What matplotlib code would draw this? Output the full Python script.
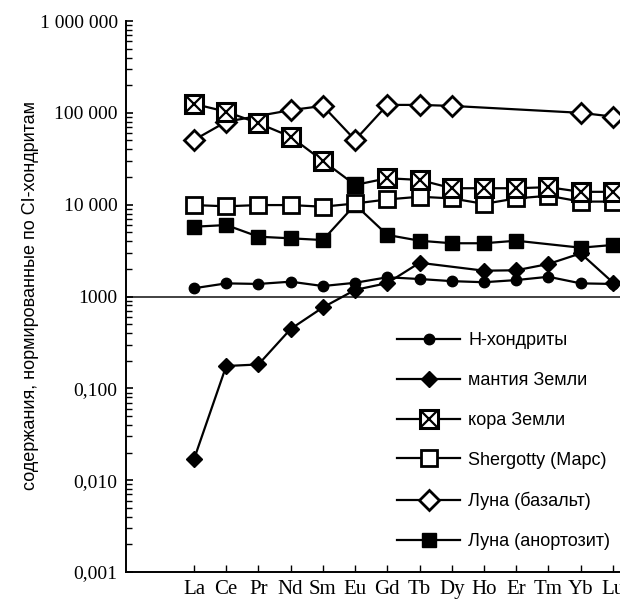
import numpy as np
import matplotlib
matplotlib.use('Agg')
import matplotlib.pyplot as plt
from matplotlib.legend_handler import HandlerTuple
from matplotlib.ticker import LogLocator, FixedLocator, NullFormatter

# Редкоземельные элементы
elements = ['La', 'Ce', 'Pr', 'Nd', 'Sm', 'Eu', 'Gd', 'Tb', 'Dy', 'Ho', 'Er', 'Tm', 'Yb', 'Lu']

# Значения в единицах оси (подписи оси в оригинале: 0,001 ... 0,100, 1000 ... 1 000 000)
nan = np.nan
h_chondrites = [1.23, 1.39, 1.37, 1.45, 1.30, 1.41, 1.62, 1.55, 1.47, 1.43, 1.51, 1.64, 1.39, 1.37]
earth_mantle = [0.0169, 0.175, 0.182, 0.443, 0.76, 1.18, 1.40, 2.33, nan, 1.91, 1.93, 2.26, 2.95, 1.42]
earth_crust = [125, 103, 77, 55, 30, 16.4, 19.4, 18.6, 15.1, 15.1, 15.1, 15.5, 13.8, 13.8]
shergotty = [9.9, 9.6, 9.9, 9.9, 9.5, 10.3, 11.4, 12.2, 11.7, 10.2, 11.7, 12.5, 10.8, 10.8]
moon_basalt = [50.6, 80, nan, 107, 119, 50.6, 122, 122, 119, nan, nan, nan, 100, 91]
moon_anorthosite = [5.75, 6.0, 4.48, 4.3, 4.12, 10.0, 4.68, 4.05, 3.8, 3.8, 4.05, nan, 3.4, 3.64]

ytick_values = [1e-3, 1e-2, 1e-1, 1e0, 1e1, 1e2, 1e3]
ytick_labels = ['0,001', '0,010', '0,100', '1000', '10 000', '100 000', '1 000 000']

labels = ['Н-хондриты', 'мантия Земли', 'кора Земли',
          'Shergotty (Марс)', 'Луна (базальт)', 'Луна (анортозит)']

SERIF = 'Liberation Serif'
SANS = 'Liberation Sans'
LW = 1.6


def plot_series(ax, values, skip=None, **kw):
    """Рисует ряд, пропуская отсутствующие точки (линия не прерывается)"""
    v = np.array(values, dtype=float)
    x = np.arange(len(v))
    m = ~np.isnan(v)
    if skip is not None:
        kw['markevery'] = [i for i, xi in enumerate(x[m]) if xi not in skip]
    return ax.plot(x[m], v[m], color='black', lw=LW, **kw)[0]


fig = plt.figure(figsize=(6.2, 5.99), dpi=100)
W, H = 620, 599
ax = fig.add_axes([126 / W, (H - 572) / H, (W - 126) / W, (572 - 21) / H])

ax.set_yscale('log')
ax.set_ylim(1e-3, 1e3)
ax.set_xlim(-2.11, 13.22)

ax.axhline(1.0, color='#333333', lw=1.3, zorder=1)

h_mantle = plot_series(ax, earth_mantle, marker='D', ms=8, mfc='black', mec='black', zorder=2)
h_anort = plot_series(ax, moon_anorthosite, marker='s', ms=10.5, mfc='black', mec='black', zorder=3)
h_sherg = plot_series(ax, shergotty, marker='s', ms=11.5, mfc='white', mec='black', mew=2, zorder=4)
h_basalt = plot_series(ax, moon_basalt, marker='D', ms=10.5, mfc='white', mec='black', mew=2, zorder=5)
h_crust = plot_series(ax, earth_crust, skip=[5], marker='s', ms=12.5, mfc='white', mec='black', mew=2.2, zorder=6)
h_crust_x = ax.plot(np.arange(len(earth_crust)), earth_crust, ls='none', marker='x', ms=12.5,
                    mec='black', mew=1.6, markevery=[i for i in range(14) if i != 5], zorder=6.5)[0]
# Eu в коре на оригинале залит чёрным
ax.plot([5], [earth_crust[5]], ls='none', marker='s', ms=11, mfc='black', mec='black', zorder=6.5)
h_chond = plot_series(ax, h_chondrites, marker='o', ms=7.5, mfc='black', mec='black', zorder=7)

# оси
for side in ['top', 'right']:
    ax.spines[side].set_visible(False)
for side in ['left', 'bottom']:
    ax.spines[side].set_linewidth(1.4)

ax.yaxis.set_major_locator(FixedLocator(ytick_values))
ax.set_yticklabels(ytick_labels, fontfamily=SERIF, fontsize=14)
ax.yaxis.set_minor_locator(LogLocator(base=10, subs=np.arange(2, 10), numticks=20))
ax.yaxis.set_minor_formatter(NullFormatter())
ax.tick_params(axis='y', which='major', direction='in', length=5, width=1.2, pad=6)
ax.tick_params(axis='y', which='minor', direction='in', length=4, width=1.0)

ax.set_xticks(np.arange(len(elements)))
ax.set_xticklabels(elements, fontfamily=SERIF, fontsize=15)
ax.tick_params(axis='x', direction='in', length=5, width=1.0, pad=6)

fig.text(31 / W, (H - 295) / H, 'содержания, нормированные по CI-хондритам',
         rotation=90, ha='center', va='center', fontfamily=SANS, fontsize=13)

handles = [h_chond, h_mantle, (h_crust, h_crust_x), h_sherg, h_basalt, h_anort]
leg = ax.legend(handles, labels, loc='upper left',
                bbox_to_anchor=(397 / W, (H - 332) / H), bbox_transform=fig.transFigure,
                frameon=False, numpoints=1, handlelength=3.5, handletextpad=0.45,
                labelspacing=1.27, borderpad=0, borderaxespad=0,
                prop={'family': SANS, 'size': 13},
                handler_map={tuple: HandlerTuple(ndivide=1)})

fig.savefig('out.png', dpi=100)
